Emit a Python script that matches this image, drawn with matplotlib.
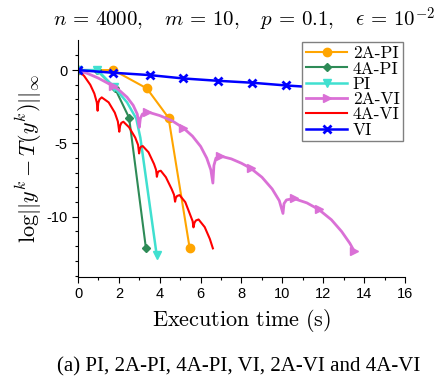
import matplotlib
matplotlib.use("Agg")
from matplotlib import pyplot as plt

plt.rcParams['mathtext.fontset'] = 'cm'
plt.rcParams['font.family'] = ['Liberation Sans', 'DejaVu Sans']

# execution time (s) and log residual for each method
pi2a_t = [0, 1.73, 3.37, 4.43, 5.46]
pi2a_y = [0, 0.0, -1.25, -3.25, -12.1]

pi4a_t = [0, 0.92, 1.81, 2.5, 3.32]
pi4a_y = [0, 0.0, -1.25, -3.25, -12.1]

pi_t = [0, 0.95, 1.76, 2.4, 2.85, 3.05, 3.85]
pi_y = [0, 0.0, -1.15, -2.2, -3.3, -4.6, -12.6]

vi2a_t = [0, 0.5, 1.0, 1.73, 2.0, 2.4, 2.7, 2.9, 3.0,
          3.05, 3.15, 3.4, 4.0, 4.6, 5.16, 5.6, 6.0, 6.3, 6.5, 6.6,
          6.65, 6.75, 6.96, 7.5, 8.0, 8.46, 9.0, 9.5, 9.85, 10.03,
          10.08, 10.2, 10.55, 11.2, 11.78, 12.4, 12.9, 13.3, 13.5]
vi2a_y = [0, -0.25, -0.55, -1.1, -1.35, -1.85, -2.4, -3.0, -3.9,
          -3.3, -3.0, -2.85, -3.1, -3.45, -3.95, -4.5, -5.2, -6.0, -6.8, -7.7,
          -6.5, -6.0, -5.86, -6.05, -6.35, -6.7, -7.3, -8.1, -8.9, -9.77,
          -9.1, -8.85, -8.75, -9.05, -9.5, -10.2, -11.0, -11.8, -12.3]
vi2a_marks = [0, 3, 11, 14, 22, 25, 32, 34, 38]

vi4a_t = [0, 0.3, 0.6, 0.8, 0.92, 0.96,
          0.99, 1.05, 1.16, 1.5, 1.8, 1.95, 2.02,
          2.06, 2.12, 2.22, 2.5, 2.8, 2.94, 2.99,
          3.03, 3.08, 3.17, 3.45, 3.72, 3.82, 3.86,
          3.9, 3.95, 4.05, 4.3, 4.58, 4.7, 4.75,
          4.79, 4.85, 4.97, 5.25, 5.5, 5.61, 5.65,
          5.7, 5.77, 5.9, 6.2, 6.45, 6.6]
vi4a_y = [0, -0.4, -1.0, -1.6, -2.2, -2.77,
          -2.25, -2.0, -1.86, -2.2, -2.9, -3.5, -4.2,
          -3.8, -3.6, -3.52, -3.9, -4.6, -5.1, -5.68,
          -5.35, -5.22, -5.18, -5.6, -6.4, -6.8, -7.27,
          -7.0, -6.9, -6.86, -7.3, -8.1, -8.5, -8.97,
          -8.7, -8.58, -8.52, -9.0, -9.9, -10.3, -10.72,
          -10.4, -10.25, -10.18, -10.7, -11.5, -12.15]

vi_t = [0, 1.7, 3.5, 5.15, 6.85, 8.5, 10.2, 11.9, 13.6]
vi_y = [0, -0.18, -0.34, -0.57, -0.73, -0.86, -1.05, -1.2, -1.35]

fig = plt.figure(figsize=(4.47, 3.81), dpi=100)
ax = fig.add_axes([0.1745, 0.273, 0.7315, 0.622])

ax.plot(pi2a_t, pi2a_y, color='orange', marker='o', ms=6, lw=1.5, label='2A-PI')
ax.plot(pi4a_t, pi4a_y, color='seagreen', marker='D', ms=4.5, lw=1.5, label='4A-PI')
ax.plot(pi_t, pi_y, color='turquoise', marker='v', ms=5.5, lw=1.8,
        markevery=[0, 1, 2, 6], label='PI')
ax.plot(vi2a_t, vi2a_y, color='orchid', marker='>', ms=5.5, lw=2,
        markevery=vi2a_marks, label='2A-VI')
ax.plot(vi4a_t, vi4a_y, color='red', lw=1.5, label='4A-VI')
ax.plot(vi_t, vi_y, color='blue', marker='x', ms=6, mew=2, lw=1.8, label='VI')

ax.set_xlim(0, 16)
ax.set_ylim(-14.1, 2.05)
ax.set_xticks(range(0, 17, 2))
ax.set_xticks(range(1, 16, 2), minor=True)
ax.set_yticks([0, -5, -10])
ax.set_yticklabels(['0', '-5', '-10'])
ax.set_yticks(range(-14, 2), minor=True)
ax.tick_params(labelsize=10.5, length=4, width=0.8)
ax.tick_params(which='minor', length=2.5, width=0.8)
ax.spines['top'].set_visible(False)
ax.spines['right'].set_visible(False)

ax.set_xlabel(r'$\mathrm{Execution\ time\ (s)}$', fontsize=16, labelpad=4)
ax.set_ylabel(r'$\log||y^k - T(y^k)||_\infty$', fontsize=16, labelpad=2)

leg = ax.legend(loc='upper right', bbox_to_anchor=(0.994, 0.99), borderaxespad=0,
                prop={'family': 'cmr10', 'size': 12.5}, fancybox=False,
                edgecolor='grey', framealpha=1, handlelength=2.4,
                labelspacing=0.0, borderpad=0.2, handletextpad=0.3)
leg.get_frame().set_linewidth(1.0)

fig.text(0.545, 0.947,
         r'$n\,=\,4000,\quad m\,=\,10,\quad p\,=\,0.1,\quad \epsilon\,=\,10^{-2}$',
         ha='center', va='center', fontsize=15)
fig.text(0.533, 0.037, '(a) PI, 2A-PI, 4A-PI, VI, 2A-VI and 4A-VI',
         ha='center', va='center', fontsize=15, family='Liberation Serif')

fig.savefig('out.png', dpi=100)
